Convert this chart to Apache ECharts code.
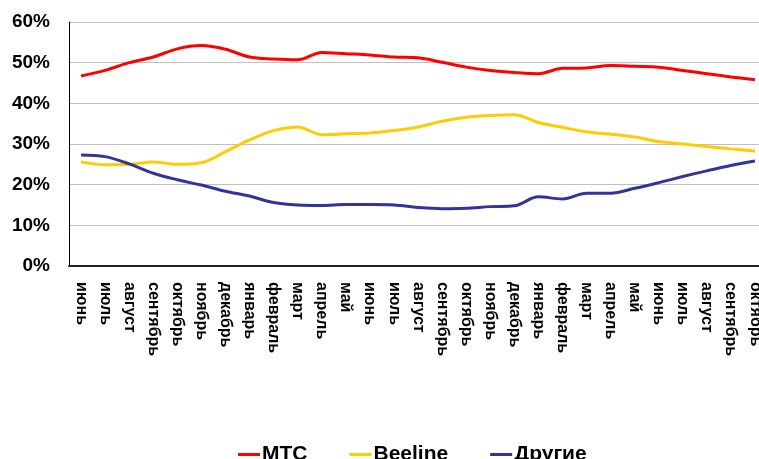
<!DOCTYPE html>
<html>
<head>
	<meta charset="UTF-8">
	<title></title>
	<style>
		html, body { margin: 0; padding: 0; overflow: hidden; background: #fff; }
	</style>
</head>
<body>
	<div id="chart-wrap" style="width: 768px; height: 459px;"></div>
</body>
<script src="https://cdn.jsdelivr.net/npm/echarts@6/dist/echarts.min.js"></script>
<script>
var months = ['июнь', 'июль', 'август', 'сентябрь', 'октябрь', 'ноябрь', 'декабрь',
    'январь', 'февраль', 'март', 'апрель', 'май', 'июнь', 'июль', 'август', 'сентябрь',
    'октябрь', 'ноябрь', 'декабрь', 'январь', 'февраль', 'март', 'апрель', 'май',
    'июнь', 'июль', 'август', 'сентябрь', 'октябрь'];

var mts = [46.7, 48.1, 50.0, 51.4, 53.4, 54.2, 53.3, 51.4, 50.9, 50.7, 52.5, 52.2, 51.9,
    51.4, 51.2, 50.1, 48.9, 48.1, 47.6, 47.3, 48.6, 48.7, 49.3, 49.1, 48.9, 48.1, 47.3, 46.5, 45.8];

var beeline = [25.6, 24.9, 25.0, 25.6, 25.0, 25.4, 28.1, 31.0, 33.3, 34.2, 32.3, 32.5, 32.7,
    33.3, 34.2, 35.6, 36.6, 37.0, 37.2, 35.3, 34.1, 33.0, 32.4, 31.7, 30.6, 30.0, 29.4, 28.8, 28.3];

var others = [27.3, 26.9, 25.1, 22.8, 21.2, 19.9, 18.4, 17.2, 15.6, 15.0, 14.9, 15.1, 15.1,
    15.0, 14.4, 14.1, 14.2, 14.6, 14.8, 17.0, 16.5, 17.9, 17.9, 19.1, 20.5, 22.0, 23.4, 24.7, 25.8];

var chart = echarts.init(document.getElementById('chart-wrap'));

// общий стиль линий
var lineSeries = function (name, data, color) {
    return {
        name: name,
        type: 'line',
        data: data,
        smooth: 0.35,
        symbol: 'none',
        lineStyle: { color: color, width: 3 },
        itemStyle: { color: color }
    };
};

var option = {
    animation: false,
    textStyle: { fontFamily: 'Liberation Sans, Arial, sans-serif' },
    grid: {
        left: 69,
        right: 1,
        top: 22,
        bottom: 193,
        outerBoundsMode: 'none'
    },
    legend: {
        left: 233,
        top: 439,
        itemWidth: 22,
        itemHeight: 3,
        itemGap: 42,
        icon: 'rect',
        textStyle: { fontSize: 21, fontWeight: 'bold', color: '#000', padding: [0, 0, 0, -3] },
        data: ['МТС', 'Beeline', 'Другие']
    },
    xAxis: {
        type: 'category',
        data: months,
        boundaryGap: true,
        axisLine: { lineStyle: { color: '#222', width: 2 } },
        axisTick: { show: false },
        axisLabel: {
            rotate: -90,
            interval: 0,
            margin: 16,
            fontSize: 16,
            fontWeight: 'bold',
            color: '#000'
        }
    },
    yAxis: {
        type: 'value',
        min: 0,
        max: 60,
        interval: 10,
        axisLine: { show: true, lineStyle: { color: '#000', width: 1 } },
        axisTick: { show: false },
        splitLine: { lineStyle: { color: '#c0c0c0', width: 1 } },
        axisLabel: {
            formatter: '{value}%',
            margin: 19,
            fontSize: 19,
            fontWeight: 'bold',
            color: '#000'
        }
    },
    series: [
        lineSeries('МТС', mts, '#ff0000'),
        lineSeries('Beeline', beeline, '#ffcc00'),
        lineSeries('Другие', others, '#333399')
    ]
};

chart.setOption(option);
</script>
</html>
